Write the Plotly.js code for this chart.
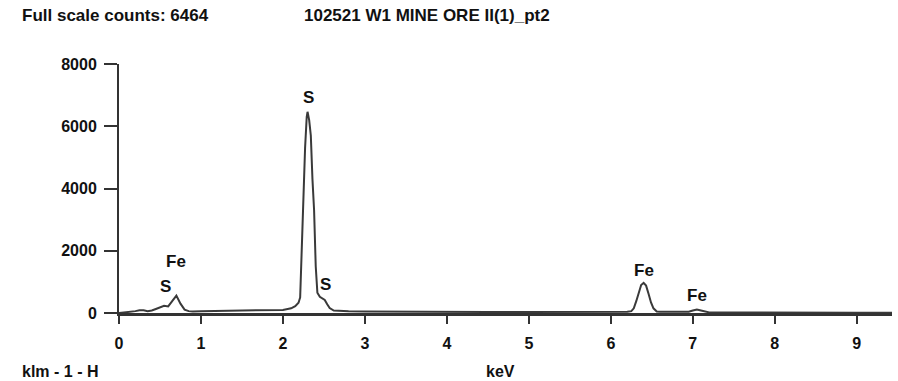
<!DOCTYPE html>
<html>
<head>
<meta charset="utf-8">
<script src="https://cdn.plot.ly/plotly-3.0.1.min.js"></script>
<style>html,body{margin:0;padding:0;background:#fff;}#chart{width:898px;height:381px;}</style>
</head>
<body>
<div id="chart"></div>
<script>
// Spectrum (energy in keV, counts)
const energy = [0, 0.1, 0.2, 0.25, 0.3, 0.35, 0.4, 0.45, 0.5, 0.55, 0.6, 0.65, 0.7, 0.75, 0.8, 0.85, 0.9, 1.0, 1.2, 1.4, 1.6, 1.8,
  2.0, 2.1, 2.15, 2.19, 2.21, 2.23, 2.25, 2.27, 2.29, 2.30, 2.32, 2.34, 2.36, 2.38, 2.40, 2.42, 2.45, 2.48, 2.51, 2.54, 2.57, 2.62, 2.7, 2.8,
  3.0, 3.5, 4.0, 4.5, 5.0, 5.5, 6.0, 6.2, 6.25, 6.28, 6.31, 6.34, 6.37, 6.40, 6.43, 6.46, 6.49, 6.52, 6.56, 6.6, 6.8,
  6.95, 7.0, 7.05, 7.1, 7.15, 7.2, 7.4, 7.6, 8.0, 8.5, 9.0, 9.43];
const counts = [0, 20, 60, 90, 90, 60, 80, 130, 190, 230, 210, 380, 560, 300, 110, 60, 50, 60, 70, 70, 75, 80,
  100, 150, 220, 330, 500, 2100, 3900, 5300, 6300, 6464, 6200, 5700, 4300, 3300, 1500, 650, 520, 470, 420, 280, 160, 80, 60, 55,
  50, 40, 35, 35, 35, 35, 35, 40, 60, 150, 380, 680, 900, 970, 880, 620, 340, 150, 50, 40, 40,
  40, 80, 110, 80, 40, 20, 20, 15, 10, 5, 5, 5];

// Peak labels
const peakLabels = ["S", "Fe", "S", "S", "Fe", "Fe"];
const peakEnergy = [0.57, 0.70, 2.31, 2.52, 6.41, 7.05];
const peakLabelCounts = [840, 1640, 6930, 900, 1380, 560];

const headerLeft = "Full scale counts: 6464";
const headerRight = "102521 W1 MINE ORE II(1)_pt2";
const footerLeft = "klm - 1 - H";
const xUnit = "keV";

const FONT = "Liberation Sans, Arial, sans-serif";
const boldFont = (s) => ({family: FONT, size: s, color: "#111", weight: "bold"});

const annotations = peakLabels.map((t, i) => ({
  x: peakEnergy[i], y: peakLabelCounts[i], xref: "x", yref: "y",
  text: "<b>" + t + "</b>", showarrow: false, font: boldFont(17),
  xanchor: "center", yanchor: "middle"
}));
annotations.push(
  {x: -0.128, y: 1.193, xref: "paper", yref: "paper", text: "<b>" + headerLeft + "</b>", showarrow: false, font: boldFont(17), xanchor: "left", yanchor: "middle"},
  {x: 0.2367, y: 1.193, xref: "paper", yref: "paper", text: "<b>" + headerRight + "</b>", showarrow: false, font: boldFont(17), xanchor: "left", yanchor: "middle"},
  {x: -0.128, y: -0.233, xref: "paper", yref: "paper", text: "<b>" + footerLeft + "</b>", showarrow: false, font: boldFont(16), xanchor: "left", yanchor: "middle"},
  {x: 0.4929, y: -0.233, xref: "paper", yref: "paper", text: "<b>" + xUnit + "</b>", showarrow: false, font: boldFont(16), xanchor: "center", yanchor: "middle"}
);

const trace = {
  x: energy, y: counts, type: "scatter", mode: "lines",
  line: {color: "#3a3a3a", width: 2}, hoverinfo: "skip"
};

const layout = {
  width: 898, height: 381,
  margin: {l: 119, r: 6, t: 64, b: 68, pad: 0},
  paper_bgcolor: "#fff", plot_bgcolor: "#fff",
  showlegend: false,
  xaxis: {
    range: [0, 9.43], dtick: 1, tick0: 0, showgrid: false, zeroline: false,
    showline: true, linecolor: "#333", linewidth: 2.5,
    ticks: "outside", ticklen: 8, tickwidth: 2, tickcolor: "#333",
    ticklabelstandoff: 6, tickfont: boldFont(16)
  },
  yaxis: {
    range: [0, 8000], dtick: 2000, tick0: 0, showgrid: false, zeroline: false,
    showline: true, linecolor: "#333", linewidth: 2,
    ticks: "outside", ticklen: 13, tickwidth: 2, tickcolor: "#333",
    ticklabelstandoff: 4, tickfont: boldFont(16)
  },
  annotations: annotations
};

Plotly.newPlot("chart", [trace], layout, {staticPlot: true, displayModeBar: false});
</script>
</body>
</html>
